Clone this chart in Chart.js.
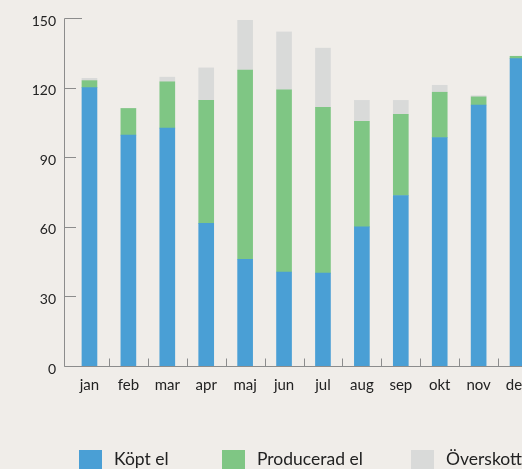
<!DOCTYPE html>
<html lang="sv">
<head>
<meta charset="utf-8">
<script src="https://cdn.jsdelivr.net/npm/chart.js@4/dist/chart.umd.min.js"></script>
<style>
  html, body { margin: 0; padding: 0; background: #f0ede9; overflow: hidden; }
  #wrap { position: relative; width: 560px; height: 469px; }
  .item { position: absolute; top: 450px; height: 24px; font-family: Lato, sans-serif; font-size: 17.5px; line-height: 17.5px; color: #222; white-space: nowrap; }
  .box { position: absolute; left: 0; top: 0; width: 23px; height: 24px; }
  .label { position: absolute; left: 35px; top: 0; }
</style>
</head>
<body>
<div id="wrap">
  <canvas id="elChart" width="560" height="469"></canvas>
  <div id="legend"></div>
</div>
<script>
// Månader och värden
const months = ["jan", "feb", "mar", "apr", "maj", "jun", "jul", "aug", "sep", "okt", "nov", "dec"];
const kopt = [120, 99.5, 102.5, 61.5, 46, 40.5, 40, 60, 73.5, 98.5, 112.5, 132.5];
const producerad = [3, 11.5, 20, 53, 81.5, 78.5, 71.5, 45.5, 35, 19.5, 3.5, 1];
const overskott = [1, 0, 2, 14, 21.5, 25, 25.5, 9, 6, 3, 0.5, 0];
const yTicks = [0, 30, 60, 90, 120, 150];

const seriesLabels = ["Köpt el", "Producerad el", "Överskott"];
const seriesColors = ["#4a9fd5", "#7fc684", "#d9dad9"];

// Axellinjer och små streck ritas för hand
const axisPlugin = {
  id: "axisLines",
  beforeDatasetsDraw(chart) {
    const { ctx, scales } = chart;
    const x0 = 64.5;
    const yBase = Math.round(scales.y.getPixelForValue(0)) + 0.5;
    ctx.save();
    ctx.strokeStyle = "#8c8c8c";
    ctx.lineWidth = 1;
    ctx.beginPath();
    ctx.moveTo(x0, Math.round(scales.y.getPixelForValue(150)) + 0.5);
    ctx.lineTo(x0, yBase);
    ctx.lineTo(chart.width, yBase);
    yTicks.forEach((v) => {
      const y = Math.round(scales.y.getPixelForValue(v)) + 0.5;
      ctx.moveTo(x0, y);
      ctx.lineTo(v === 150 ? 82 : 76, y);
    });
    for (let i = 1; i < months.length; i++) {
      const x = Math.round((scales.x.getPixelForValue(i - 1) + scales.x.getPixelForValue(i)) / 2) + 0.5;
      ctx.moveTo(x, yBase);
      ctx.lineTo(x, yBase - 8);
    }
    ctx.stroke();
    ctx.restore();
  },
};

const ctx = document.getElementById("elChart").getContext("2d");
const elChart = new Chart(ctx, {
  type: "bar",
  data: {
    labels: months,
    datasets: [
      { label: seriesLabels[0], data: kopt, backgroundColor: seriesColors[0] },
      { label: seriesLabels[1], data: producerad, backgroundColor: seriesColors[1] },
      { label: seriesLabels[2], data: overskott, backgroundColor: seriesColors[2] },
    ],
  },
  options: {
    responsive: false,
    animation: false,
    devicePixelRatio: 1,
    barThickness: 15,
    layout: { padding: { top: 18, right: 23, left: 0, bottom: 0 } },
    plugins: { legend: { display: false }, tooltip: { enabled: false } },
    scales: {
      x: {
        stacked: true,
        grid: { display: false, drawTicks: false },
        border: { display: false },
        ticks: { color: "#222", font: { family: "Lato", size: 15 }, padding: 10, maxRotation: 0, autoSkip: false },
        afterFit: (scale) => {
          scale.height = 103;
          scale.paddingLeft = 0;
          scale.paddingRight = 0;
        },
      },
      y: {
        stacked: true,
        min: 0,
        max: 150,
        grid: { display: false, drawTicks: false },
        border: { display: false },
        ticks: { stepSize: 30, color: "#222", font: { family: "Lato", size: 14 }, padding: 14, labelOffset: 3 },
        afterFit: (scale) => {
          scale.width = 70;
          scale.paddingTop = 0;
          scale.paddingBottom = 0;
        },
      },
    },
  },
  plugins: [axisPlugin],
});

// Förklaring under diagrammet
const legendLefts = [79, 222, 411];
const legend = document.getElementById("legend");
seriesLabels.forEach((label, i) => {
  const item = document.createElement("div");
  item.className = "item";
  item.style.left = legendLefts[i] + "px";
  item.innerHTML = `<div class="box" style="background:${seriesColors[i]}"></div><div class="label">${label}</div>`;
  legend.appendChild(item);
});
</script>
</body>
</html>
